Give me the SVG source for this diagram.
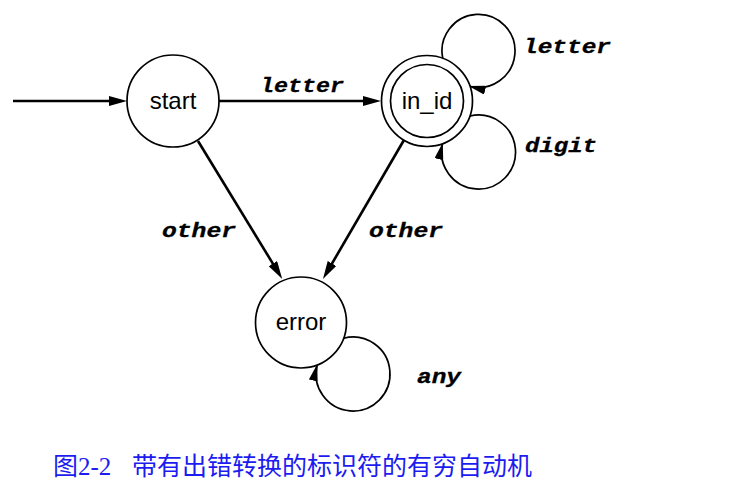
<svg xmlns="http://www.w3.org/2000/svg" width="748" height="493" viewBox="0 0 748 493">
  <defs>
    <marker id="ah" viewBox="0 0 18 10" markerWidth="18" markerHeight="10" refX="8" refY="5" orient="auto" markerUnits="userSpaceOnUse">
      <path d="M0,0 L18,5 L0,10 z" fill="#000"/>
    </marker>
    <marker id="ahs" viewBox="0 0 17 9" markerWidth="17" markerHeight="9" refX="16" refY="4.5" orient="auto" markerUnits="userSpaceOnUse">
      <path d="M0,0 L17,4.5 L0,9 z" fill="#000"/>
    </marker>
    <style>
      .node { fill: #fff; stroke: #000; stroke-width: 1.7; }
      .nlabel { font-family: "Liberation Sans", Arial, sans-serif; font-size: 24px; text-anchor: middle; fill: #000; }
      .edge { fill: none; stroke: #000; stroke-width: 2.6; marker-end: url(#ah); }
      .loop { fill: none; stroke: #000; stroke-width: 1.7; marker-end: url(#ahs); }
      .elabel { font-family: "Liberation Mono", "Courier New", monospace; font-weight: bold; font-style: italic; font-size: 20px; fill: #000; stroke: #000; stroke-width: 0.3; }
      .caption { font-family: "Liberation Serif", "Noto Sans CJK SC", serif; font-size: 25px; fill: #1c1cf0; }
    </style>
  </defs>

  <g id="connectors">
    <line class="edge" x1="13" y1="101" x2="117" y2="101"/>
    <line class="edge" x1="219" y1="101" x2="371" y2="101"/>
    <line class="edge" x1="198" y1="141" x2="277" y2="270.4"/>
    <line class="edge" x1="404" y1="140" x2="328" y2="270.4"/>
    <path class="loop" d="M442.8,58.5 A36.5,36.5 0 1 1 469.6,86.3"/>
    <path class="loop" d="M469.4,116.2 A37,37 0 1 1 442.5,143.6"/>
    <path class="loop" d="M343.7,338.2 A37,37 0 1 1 317.1,365"/>
    <text class="elabel" x="260" y="92" textLength="84" lengthAdjust="spacingAndGlyphs">letter</text>
    <text class="elabel" x="523" y="53" textLength="88" lengthAdjust="spacingAndGlyphs">letter</text>
    <text class="elabel" x="525" y="152" textLength="72" lengthAdjust="spacingAndGlyphs">digit</text>
    <text class="elabel" x="162" y="237" textLength="74" lengthAdjust="spacingAndGlyphs">other</text>
    <text class="elabel" x="369" y="237" textLength="74" lengthAdjust="spacingAndGlyphs">other</text>
    <text class="elabel" x="417" y="383" textLength="44" lengthAdjust="spacingAndGlyphs">any</text>
  </g>

  <g id="node-start">
    <circle class="node" cx="173" cy="101" r="46"/>
    <text class="nlabel" x="173" y="109">start</text>
  </g>

  <g id="node-in_id">
    <circle class="node" cx="427" cy="101" r="45.5"/>
    <circle class="node" cx="427" cy="101" r="36.5"/>
    <text class="nlabel" x="427" y="109">in_id</text>
  </g>

  <g id="node-error">
    <circle class="node" cx="301" cy="322.5" r="45.5"/>
    <text class="nlabel" x="301" y="330">error</text>
  </g>

  <text class="caption" x="53" y="475">图2-2<tspan x="132">带有出错转换的标识符的有穷自动机</tspan></text>
</svg>
